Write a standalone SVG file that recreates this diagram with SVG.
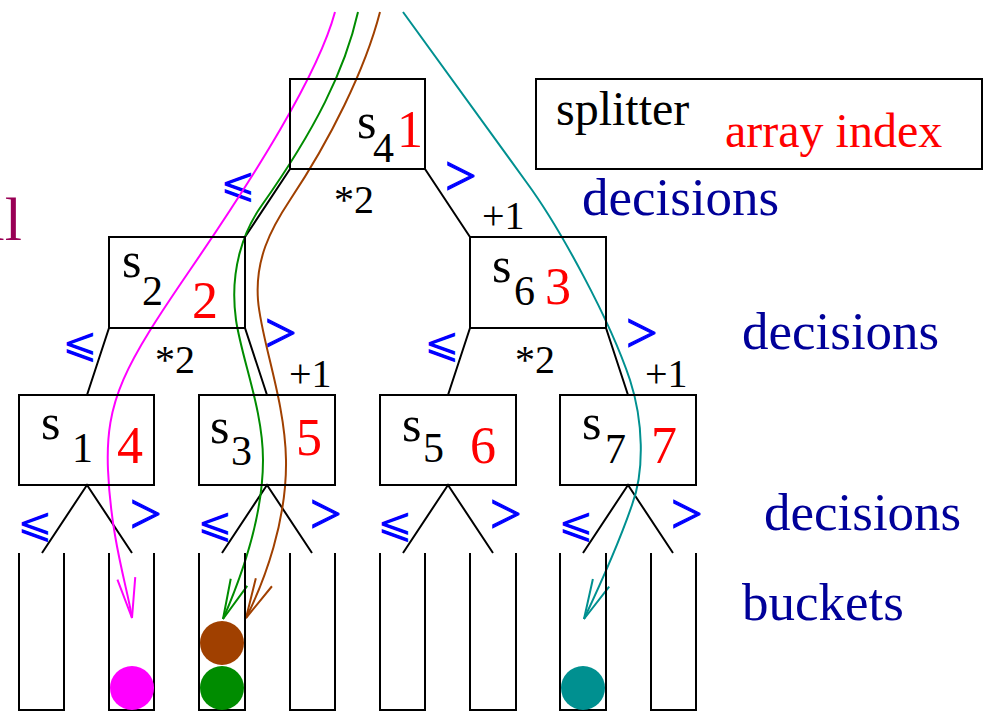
<svg xmlns="http://www.w3.org/2000/svg" width="985" height="711" viewBox="0 0 985 711">
<style>
.box{fill:none;stroke:#000;stroke-width:2}
.ln{fill:none;stroke:#000;stroke-width:2}
.t{font-family:"Liberation Serif","Times New Roman",serif}
.s{font-size:50px;fill:#000}
.sub{font-size:42px;fill:#000}
.idx{font-size:52px;fill:#f00}
.op{font-size:40px;fill:#000}
.dec{font-size:53px;fill:#000099}
.lt{font-family:"DejaVu Sans",sans-serif;font-size:42px;fill:#0000ff}
.gt{font-size:56px;fill:#0000ff;stroke:#0000ff;stroke-width:1.2}
.path{fill:none;stroke-width:2}
</style>
<defs>
<marker id="am" markerUnits="userSpaceOnUse" markerWidth="50" markerHeight="30" refX="0" refY="0" viewBox="-45 -15 50 30" orient="auto" overflow="visible"><path d="M-40,-9 L0,0 L-40,9" fill="none" stroke="#ff00ff" stroke-width="2"/></marker>
<marker id="ag" markerUnits="userSpaceOnUse" markerWidth="50" markerHeight="30" refX="0" refY="0" viewBox="-45 -15 50 30" orient="auto" overflow="visible"><path d="M-40,-9 L0,0 L-40,9" fill="none" stroke="#008c00" stroke-width="2"/></marker>
<marker id="ab" markerUnits="userSpaceOnUse" markerWidth="50" markerHeight="30" refX="0" refY="0" viewBox="-45 -15 50 30" orient="auto" overflow="visible"><path d="M-40,-9 L0,0 L-40,9" fill="none" stroke="#a04000" stroke-width="2"/></marker>
<marker id="at" markerUnits="userSpaceOnUse" markerWidth="50" markerHeight="30" refX="0" refY="0" viewBox="-45 -15 50 30" orient="auto" overflow="visible"><path d="M-40,-9 L0,0 L-40,9" fill="none" stroke="#009090" stroke-width="2"/></marker>
</defs>
<rect width="985" height="711" fill="#fff"/>

<g id="legend">
<rect class="box" x="536" y="79" width="446" height="90"/>
<text class="t" x="556" y="125" font-size="48">splitter</text>
<text class="t" x="725" y="147" font-size="48" fill="#f00">array index</text>
</g>
<g id="labels">
<text class="t" x="22" y="240" font-size="62" fill="#990055" text-anchor="end">ll</text>
<text class="t dec" x="582" y="215">decisions</text>
<text class="t dec" x="742" y="349">decisions</text>
<text class="t dec" x="764" y="530">decisions</text>
<text class="t dec" x="742" y="620">buckets</text>
</g>

<g id="connectors">
<path class="ln" d="M290,169 L245,237 M425,169 L470,237 M109,328 L87,395 M245,328 L267,395 M470,328 L448,395 M606,328 L628,395"/>
<path class="ln" d="M42,553 L87,485 L132,553 M222,553 L267,485 L312,553 M403,553 L448,485 L493,553 M583,553 L628,485 L673,553"/>
<g id="ops">
<text class="t lt" x="220" y="197">⩽</text><text class="t gt" x="445" y="195">&gt;</text>
<text class="t lt" x="62" y="357">⩽</text><text class="t gt" x="265" y="352">&gt;</text>
<text class="t lt" x="424" y="357">⩽</text><text class="t gt" x="626" y="352">&gt;</text>
<text class="t lt" x="17" y="537">⩽</text><text class="t gt" x="130" y="533">&gt;</text>
<text class="t lt" x="197" y="537">⩽</text><text class="t gt" x="310" y="533">&gt;</text>
<text class="t lt" x="377" y="537">⩽</text><text class="t gt" x="490" y="533">&gt;</text>
<text class="t lt" x="558" y="537">⩽</text><text class="t gt" x="671" y="533">&gt;</text>
<text class="t op" x="334" y="213">*2</text><text class="t op" x="482" y="229">+1</text>
<text class="t op" x="155" y="373">*2</text><text class="t op" x="289" y="387">+1</text>
<text class="t op" x="515" y="373">*2</text><text class="t op" x="645" y="387">+1</text>
</g>
<path class="path" stroke="#ff00ff" marker-end="url(#am)" d="M335,12 C318,75 255,175 190,270 S105,400 108,470 S128,590 132,618"/>
<path class="path" stroke="#008c00" marker-end="url(#ag)" d="M358,12 C345,70 315,130 262,205 C244,230 229,270 236,320 C242,360 263,410 263,460 C263,520 240,580 223,619"/>
<path class="path" stroke="#a04000" marker-end="url(#ab)" d="M380,12 C365,70 330,140 290,200 C270,230 255,260 258,300 C261,340 285,400 286,460 C287,520 265,580 246,618"/>
<path class="path" stroke="#009090" marker-end="url(#at)" d="M403,12 L527,183 C560,228 610,320 630,380 C643,420 645,470 632,505 C620,540 600,585 584,619"/>
</g>

<g id="s4"><rect class="box" x="290" y="79" width="135" height="90"/><text class="t s" x="357" y="138">s</text><text class="t sub" x="373" y="162">4</text><text class="t idx" x="397" y="147">1</text></g>
<g id="s2"><rect class="box" x="109" y="237" width="136" height="91"/><text class="t s" x="122" y="277">s</text><text class="t sub" x="142" y="305">2</text><text class="t idx" x="192" y="318">2</text></g>
<g id="s6"><rect class="box" x="470" y="237" width="136" height="91"/><text class="t s" x="492" y="282">s</text><text class="t sub" x="514" y="305">6</text><text class="t idx" x="545" y="304">3</text></g>
<g id="s1"><rect class="box" x="19" y="395" width="135" height="90"/><text class="t s" x="41" y="439">s</text><text class="t sub" x="72" y="462">1</text><text class="t idx" x="117" y="463">4</text></g>
<g id="s3"><rect class="box" x="199" y="395" width="136" height="90"/><text class="t s" x="210" y="443">s</text><text class="t sub" x="231" y="465">3</text><text class="t idx" x="296" y="455">5</text></g>
<g id="s5"><rect class="box" x="380" y="395" width="136" height="90"/><text class="t s" x="402" y="441">s</text><text class="t sub" x="423" y="462">5</text><text class="t idx" x="470" y="463">6</text></g>
<g id="s7"><rect class="box" x="560" y="395" width="136" height="90"/><text class="t s" x="582" y="439">s</text><text class="t sub" x="605" y="463">7</text><text class="t idx" x="651" y="463">7</text></g>

<g id="buckets">
<path class="ln" d="M19,553 V710 H64 V553 M109,553 V710 H154 V553 M199,553 V710 H245 V553 M290,553 V710 H335 V553 M380,553 V710 H425 V553 M470,553 V710 H516 V553 M560,553 V710 H606 V553 M651,553 V710 H696 V553"/>
<circle cx="132" cy="688" r="22" fill="#ff00ff"/>
<circle cx="222" cy="688" r="22" fill="#008c00"/>
<circle cx="222" cy="643" r="22" fill="#a04000"/>
<circle cx="583" cy="688" r="22" fill="#009090"/>
</g>
</svg>
